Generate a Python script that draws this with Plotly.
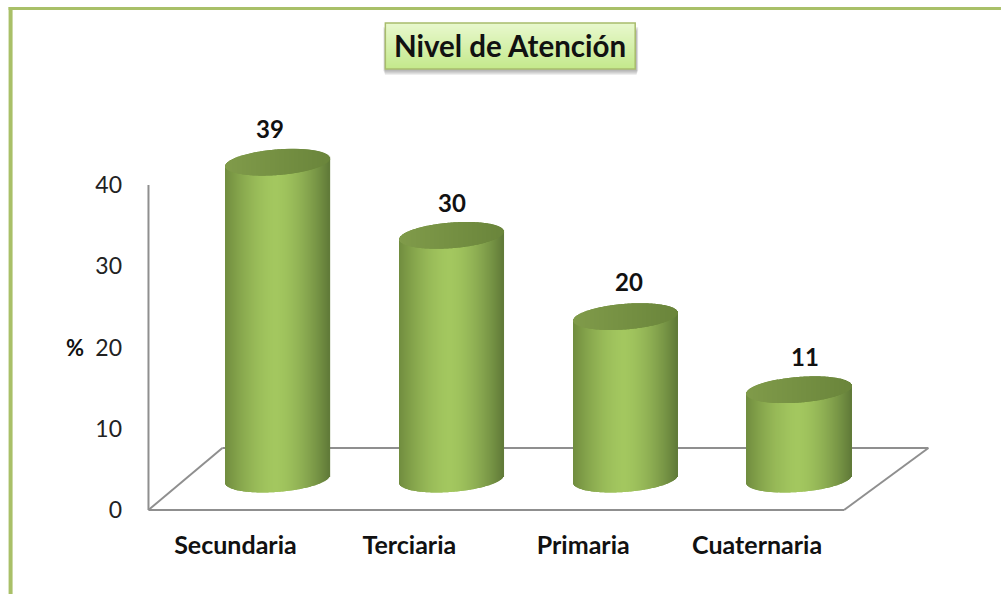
import math
import plotly.graph_objects as go

categories = ["Secundaria", "Terciaria", "Primaria", "Cuaternaria"]
values = [39, 30, 20, 11]
y_ticks = [0, 10, 20, 30, 40]
title_text = "Nivel de Atención"
axis_unit = "%"

# Pseudo-3D look of the original chart
FONT = "Lato, Carlito, 'Open Sans', sans-serif"
DEPTH_X = 0.243         # categories: bars sit back from the labels
DEPTH_Y = 3.8           # value units: bars' base above the front floor line
HALF_W = 0.30           # cylinder half width (categories)
ELL_B = 1.58            # ellipse half height (value units)
ELL_T = 0.48            # ellipse tilt (value units, right end goes up)
N = 104
FLOOR_BACK = 7.63
FLOOR_DX = 0.485

L, R, T, B = 144.5, 70.0, 120.0, 80.0
W, H = 1001, 594
X_RANGE = [-0.52, 4.0]
Y_RANGE = [-0.5, 48.0]


def lerp(c1, c2, t):
    return "rgb(%d,%d,%d)" % tuple(round(a + (b - a) * t) for a, b in zip(c1, c2))


def body_color(u):
    peak = -0.03
    centre = (163, 199, 95)
    if u < peak:
        t = (peak - u) / (1 + peak)
        return lerp(centre, (112, 140, 62), t ** 1.6)
    t = (u - peak) / (1 - peak)
    return lerp(centre, (96, 122, 56), t ** 1.6)


def top_color(u):
    return lerp((128, 155, 74), (106, 133, 59), (u + 1) / 2)


bx, by, bb, bc, tx, ty, tb, tc = [], [], [], [], [], [], [], []
for i, v in enumerate(values):
    cx = i + DEPTH_X
    for k in range(N):
        u = -1 + (k + 0.5) * 2 / N
        arc = ELL_B * math.sqrt(1 - u * u)
        tilt = ELL_T * u
        low = DEPTH_Y + tilt - arc
        mid = DEPTH_Y + v + tilt
        x = cx + u * HALF_W
        bx.append(x); bb.append(low); by.append(mid - low); bc.append(body_color(u))
        tx.append(x); tb.append(mid - arc); ty.append(2 * arc); tc.append(top_color(u))

strip_w = 2 * HALF_W / N * 1.6
fig = go.Figure()
fig.add_bar(x=bx, y=by, base=bb, width=strip_w,
            marker=dict(color=bc, line=dict(width=0)), hoverinfo="skip", showlegend=False)
fig.add_bar(x=tx, y=ty, base=tb, width=strip_w,
            marker=dict(color=tc, line=dict(width=0)), hoverinfo="skip", showlegend=False)

GREY = "#8f8f8f"
shapes = []


def seg(x0, y0, x1, y1):
    shapes.append(dict(type="line", xref="x", yref="y", x0=x0, y0=y0, x1=x1, y1=y1,
                       line=dict(color=GREY, width=2), layer="below"))


x_l, x_r = -0.5, 3.5
seg(x_l, 0, x_l, y_ticks[-1])
seg(x_l, 0, x_r, 0)
seg(x_l, 0, x_l + FLOOR_DX - 0.06, FLOOR_BACK)
seg(x_l + FLOOR_DX - 0.06, FLOOR_BACK, x_r + FLOOR_DX, FLOOR_BACK)
seg(x_r, 0, x_r + FLOOR_DX, FLOOR_BACK)


def paper_rect(x0, y0, x1, y1, **kw):
    shapes.append(dict(type="rect", xref="paper", yref="paper",
                       x0=(x0 - L) / (W - L - R), x1=(x1 - L) / (W - L - R),
                       y0=1 - (y1 - T) / (H - T - B), y1=1 - (y0 - T) / (H - T - B), **kw))


# outer frame
FRAME = "#a9c068"
paper_rect(8, 7, 1001, 10, fillcolor=FRAME, line=dict(width=0), layer="below")
paper_rect(8, 7, 12, 594, fillcolor=FRAME, line=dict(width=0), layer="below")

# title box: shadow then vertical gradient
for s in range(5):
    paper_rect(384 - 1 + s * 0.4, 27 + s, 636 + 2 - s * 0.4, 71 + s,
               fillcolor="rgba(90,90,90,0.10)", line=dict(width=0), layer="below")
box_top, box_bot = 23, 69
for j in range(box_bot - box_top):
    t = j / (box_bot - box_top - 1)
    paper_rect(385, box_top + j, 635, box_top + j + 1,
               fillcolor=lerp((232, 248, 205), (196, 233, 140), t),
               line=dict(width=0), layer="below")
paper_rect(385, box_top, 635, box_bot, fillcolor="rgba(0,0,0,0)",
           line=dict(color="#a8bc6c", width=1.5), layer="below")

label_dx = [-8, 0, 4, 6]
label_dy = [34, 33, 35, 33]
annotations = [
    dict(x=i + DEPTH_X, y=DEPTH_Y + v, text=str(v), showarrow=False,
         xshift=label_dx[i], yshift=label_dy[i], xanchor="center", yanchor="middle",
         font=dict(family=FONT, size=24, color="#111111", weight="bold"))
    for i, v in enumerate(values)
]
annotations.append(dict(xref="paper", yref="y", x=(74 - L) / (W - L - R), y=20, text=axis_unit,
                        showarrow=False, xanchor="center", yanchor="middle",
                        font=dict(family=FONT, size=22, color="#111111", weight="bold")))

fig.update_layout(
    width=W, height=H, autosize=False,
    paper_bgcolor="white", plot_bgcolor="rgba(0,0,0,0)",
    margin=dict(l=L, r=R, t=T, b=B, pad=0),
    barmode="overlay", showlegend=False, shapes=shapes, annotations=annotations,
    title=dict(text=title_text, xref="container", yref="container", x=510 / W, y=1 - 47 / H,
               xanchor="center", yanchor="middle",
               font=dict(family=FONT, size=29.5, color="#111111", weight="bold")),
    xaxis=dict(range=X_RANGE, showgrid=False, zeroline=False, showline=False, ticks="",
               tickmode="array", tickvals=list(range(len(categories))), ticktext=categories,
               ticklabelstandoff=14, automargin=False,
               tickfont=dict(family=FONT, size=25, color="#111111", weight="bold")),
    yaxis=dict(range=Y_RANGE, showgrid=False, zeroline=False, showline=False, ticks="",
               tickmode="array", tickvals=y_ticks, ticktext=[str(t) for t in y_ticks],
               ticklabelstandoff=22, automargin=False,
               tickfont=dict(family=FONT, size=23, color="#222222")),
)
fig.write_html("out.html", config=dict(displayModeBar=False),
               post_script="document.body.style.margin='0';document.documentElement.style.overflow='hidden';")
